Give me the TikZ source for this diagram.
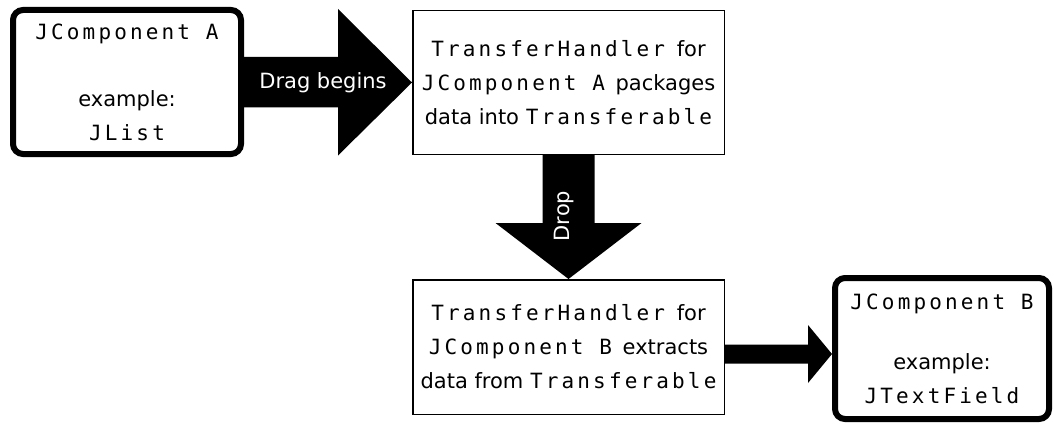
\documentclass[tikz,border=0pt]{standalone}
\usepackage{fontspec}
\setmainfont{DejaVu Sans}
\newfontfamily\codefont[LetterSpace=15]{DejaVu Sans Mono}
\usetikzlibrary{calc}
\newcommand{\cd}[1]{{\codefont\fontsize{21}{34}\selectfont #1}}

\begin{document}
\begin{tikzpicture}[x=1pt,y=-1pt,
    every node/.style={font=\fontsize{21}{34}\selectfont},
    compbox/.style={draw,line width=6pt,rounded corners=10pt,align=center,inner sep=0pt},
    handlerbox/.style={draw,line width=1.5pt,align=center,inner sep=0pt},
    blockarrow/.style={fill=black},
    arrowlabel/.style={text=white,inner sep=0pt}]

    \useasboundingbox (0,0) rectangle (1054,425);

    % boxes
    \node[compbox,minimum width=228pt,minimum height=144pt] (compa) at (127,82)
        {\cd{JComponent A}\\[33pt]example:\\\cd{JList}};
    \node[handlerbox,minimum width=311.5pt,minimum height=143.5pt] (tha) at (568.5,82.5)
        {\cd{TransferHandler}\hspace{5pt} for\\\cd{JComponent A}\hspace{4pt} packages\\data into \cd{Transferable}};
    \node[handlerbox,minimum width=311.5pt,minimum height=134.5pt] (thb) at (568.5,347)
        {\cd{TransferHandler}\hspace{5pt} for\\\cd{JComponent B}\hspace{4pt} extracts\\data from \cd{Transferable}};
    \node[compbox,minimum width=214pt,minimum height=141pt] (compb) at (942,348.5)
        {\cd{JComponent B}\\[26pt]example:\\\cd{JTextField}};

    % block arrows
    \fill[blockarrow] (compa.east) ++(0,-25) -- ++(94,0) -- ++(0,-48) -- (tha.west)
        -- ++(-74,73) -- ++(0,-48) -- ++(-94,0) -- cycle;
    \fill[blockarrow] (tha.south) ++(-26,0) -- ++(0,68) -- ++(-47,0) -- (thb.north)
        -- ++(73,-56) -- ++(-47,0) -- ++(0,-68) -- cycle;
    \fill[blockarrow] (thb.east) ++(0,-2.5) -- ++(83,0) -- ++(0,-19.5) -- ($(compb.west)+(0,5.5)$)
        -- ++(-24,29) -- ++(0,-19.5) -- ++(-83,0) -- cycle;

    \node[arrowlabel] (drag) at (323,83) {Drag begins};
    \node[arrowlabel,rotate=90] (drop) at (564,216) {Drop};

\end{tikzpicture}
\end{document}
